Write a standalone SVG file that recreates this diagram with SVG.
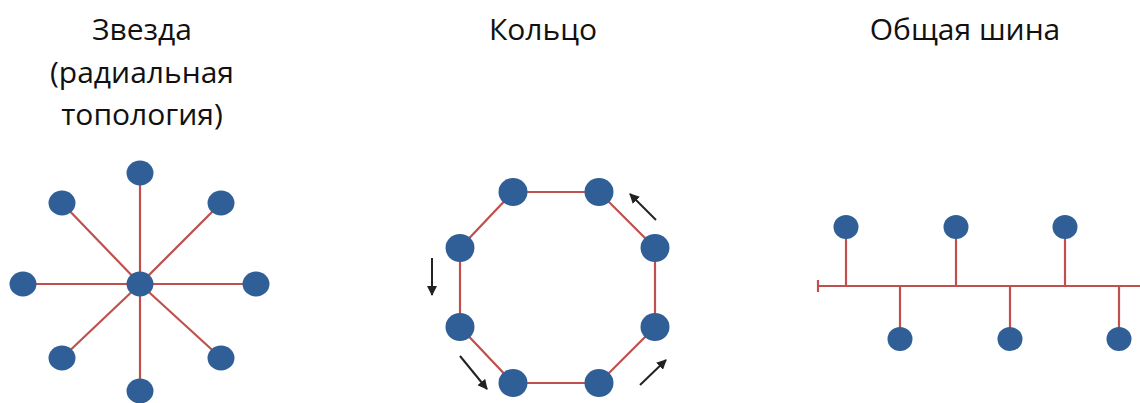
<svg xmlns="http://www.w3.org/2000/svg" width="1140" height="403" viewBox="0 0 1140 403">
<style>
.t{font-family:"Open Sans","Liberation Sans",sans-serif;font-size:30px;fill:#111;text-anchor:middle}
.n{fill:#2F5F96}
.l{stroke:#C0504D;stroke-width:2.2;fill:none}
.a{stroke:#222;stroke-width:2;fill:none;marker-end:url(#ah)}
</style>
<defs>
<marker id="ah" viewBox="0 0 10 10" refX="9" refY="5" markerWidth="5" markerHeight="5" orient="auto" markerUnits="strokeWidth">
<path d="M0,0 L10,5 L0,10 z" fill="#222"/>
</marker>
</defs>
<rect width="1140" height="403" fill="#fff"/>
<g id="titles">
<text class="t" x="142" y="40">Звезда</text>
<text class="t" x="142" y="83">(радиальная</text>
<text class="t" x="142" y="125">топология)</text>
<text class="t" x="543" y="40">Кольцо</text>
<text class="t" x="965" y="40">Общая шина</text>
</g>
<g id="connectors">
<g id="star-links" class="l">
<line x1="140" y1="284" x2="140" y2="173"/>
<line x1="140" y1="284" x2="140" y2="391"/>
<line x1="140" y1="284" x2="23" y2="284"/>
<line x1="140" y1="284" x2="256" y2="284"/>
<line x1="140" y1="284" x2="62" y2="203"/>
<line x1="140" y1="284" x2="221" y2="203"/>
<line x1="140" y1="284" x2="62" y2="358"/>
<line x1="140" y1="284" x2="221" y2="358"/>
</g>
<polygon id="ring-links" class="l" points="513,192 599,192 655,248 655,327 599,383 513,383 460,327 460,248"/>
<g id="ring-arrows">
<line class="a" x1="656" y1="220" x2="630" y2="194"/>
<line class="a" x1="432" y1="258" x2="432" y2="295"/>
<line class="a" x1="460" y1="356" x2="487" y2="389"/>
<line class="a" x1="640" y1="385" x2="666" y2="360"/>
</g>
<g id="bus-links" class="l">
<line x1="818" y1="286" x2="1140" y2="286"/>
<line x1="818" y1="280" x2="818" y2="292"/>
<line x1="846" y1="227" x2="846" y2="286"/>
<line x1="956" y1="227" x2="956" y2="286"/>
<line x1="1065" y1="227" x2="1065" y2="286"/>
<line x1="900" y1="286" x2="900" y2="339"/>
<line x1="1010" y1="286" x2="1010" y2="339"/>
<line x1="1119" y1="286" x2="1119" y2="339"/>
</g>
</g>
<g id="star">
<ellipse id="s-c" class="n" cx="140" cy="284" rx="13.5" ry="12.5"/>
<ellipse id="s-n" class="n" cx="140" cy="173" rx="13.5" ry="12.5"/>
<ellipse id="s-s" class="n" cx="140" cy="391" rx="13.5" ry="12.5"/>
<ellipse id="s-w" class="n" cx="23" cy="284" rx="13.5" ry="12.5"/>
<ellipse id="s-e" class="n" cx="256" cy="284" rx="13.5" ry="12.5"/>
<ellipse id="s-nw" class="n" cx="62" cy="203" rx="13.5" ry="12.5"/>
<ellipse id="s-ne" class="n" cx="221" cy="203" rx="13.5" ry="12.5"/>
<ellipse id="s-sw" class="n" cx="62" cy="358" rx="13.5" ry="12.5"/>
<ellipse id="s-se" class="n" cx="221" cy="358" rx="13.5" ry="12.5"/>
</g>
<g id="ring">
<ellipse id="r1" class="n" cx="513" cy="192" rx="14.5" ry="14"/>
<ellipse id="r2" class="n" cx="599" cy="192" rx="14.5" ry="14"/>
<ellipse id="r3" class="n" cx="655" cy="248" rx="14.5" ry="14"/>
<ellipse id="r4" class="n" cx="655" cy="327" rx="14.5" ry="14"/>
<ellipse id="r5" class="n" cx="599" cy="383" rx="14.5" ry="14"/>
<ellipse id="r6" class="n" cx="513" cy="383" rx="14.5" ry="14"/>
<ellipse id="r7" class="n" cx="460" cy="327" rx="14.5" ry="14"/>
<ellipse id="r8" class="n" cx="460" cy="248" rx="14.5" ry="14"/>
</g>
<g id="bus">
<ellipse id="b1" class="n" cx="846" cy="227" rx="12.5" ry="12"/>
<ellipse id="b2" class="n" cx="956" cy="227" rx="12.5" ry="12"/>
<ellipse id="b3" class="n" cx="1065" cy="227" rx="12.5" ry="12"/>
<ellipse id="b4" class="n" cx="900" cy="339" rx="12.5" ry="12"/>
<ellipse id="b5" class="n" cx="1010" cy="339" rx="12.5" ry="12"/>
<ellipse id="b6" class="n" cx="1119" cy="339" rx="12.5" ry="12"/>
</g>
</svg>
